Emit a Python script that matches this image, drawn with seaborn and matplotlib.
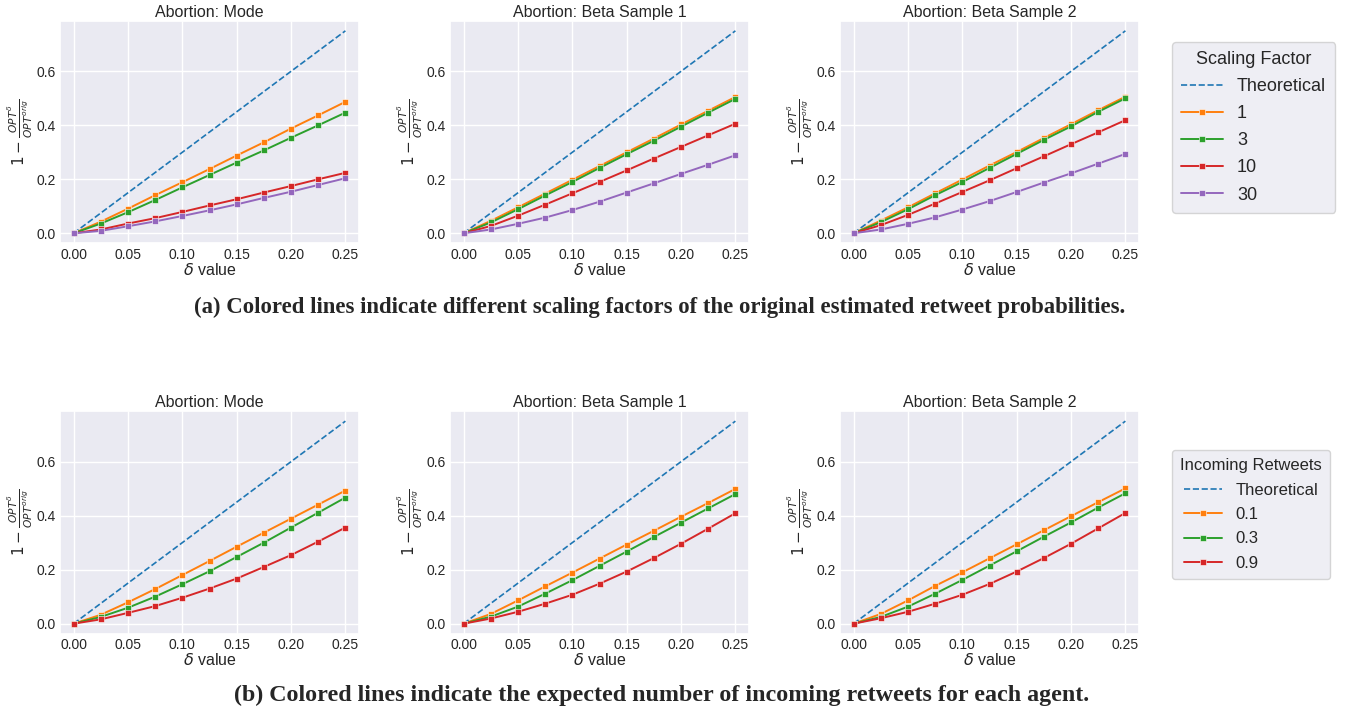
import numpy as np
import pandas as pd
import matplotlib
matplotlib.use("Agg")
import matplotlib.pyplot as plt
import seaborn as sns

delta = [0.0, 0.025, 0.05, 0.075, 0.1, 0.125, 0.15, 0.175, 0.2, 0.225, 0.25]
theoretical = [0.0, 0.075, 0.15, 0.225, 0.3, 0.375, 0.45, 0.525, 0.6, 0.675, 0.75]

panel_titles = ["Abortion: Mode", "Abortion: Beta Sample 1", "Abortion: Beta Sample 2"]

# Row (a): scaling factors
scaling_labels = ["1", "3", "10", "30"]
mode_sf = {
    "1":  [0, 0.043, 0.091, 0.141, 0.189, 0.238, 0.288, 0.337, 0.388, 0.437, 0.487],
    "3":  [0, 0.036, 0.078, 0.123, 0.170, 0.216, 0.262, 0.307, 0.354, 0.400, 0.447],
    "10": [0, 0.014, 0.036, 0.056, 0.079, 0.103, 0.126, 0.151, 0.175, 0.200, 0.224],
    "30": [0, 0.009, 0.026, 0.044, 0.064, 0.085, 0.107, 0.131, 0.154, 0.179, 0.204],
}
beta1_sf = {
    "1":  [0, 0.046, 0.096, 0.147, 0.198, 0.249, 0.300, 0.351, 0.403, 0.454, 0.505],
    "3":  [0, 0.040, 0.089, 0.140, 0.190, 0.242, 0.293, 0.343, 0.395, 0.447, 0.498],
    "10": [0, 0.027, 0.065, 0.106, 0.148, 0.190, 0.233, 0.277, 0.320, 0.363, 0.406],
    "30": [0, 0.014, 0.035, 0.058, 0.086, 0.117, 0.151, 0.185, 0.220, 0.254, 0.289],
}
beta2_sf = {
    "1":  [0, 0.047, 0.096, 0.148, 0.199, 0.251, 0.301, 0.353, 0.404, 0.456, 0.506],
    "3":  [0, 0.041, 0.089, 0.141, 0.190, 0.242, 0.294, 0.346, 0.396, 0.450, 0.500],
    "10": [0, 0.030, 0.068, 0.110, 0.153, 0.196, 0.241, 0.285, 0.330, 0.374, 0.419],
    "30": [0, 0.014, 0.035, 0.059, 0.088, 0.119, 0.153, 0.188, 0.222, 0.258, 0.294],
}

# Row (b): incoming retweets
retweet_labels = ["0.1", "0.3", "0.9"]
mode_rt = {
    "0.1": [0, 0.033, 0.079, 0.128, 0.180, 0.232, 0.285, 0.337, 0.389, 0.441, 0.493],
    "0.3": [0, 0.025, 0.059, 0.100, 0.146, 0.194, 0.247, 0.300, 0.356, 0.411, 0.467],
    "0.9": [0, 0.016, 0.040, 0.065, 0.096, 0.130, 0.167, 0.210, 0.254, 0.304, 0.356],
}
beta1_rt = {
    "0.1": [0, 0.036, 0.086, 0.138, 0.189, 0.241, 0.293, 0.344, 0.396, 0.447, 0.499],
    "0.3": [0, 0.026, 0.063, 0.111, 0.161, 0.214, 0.267, 0.321, 0.374, 0.427, 0.480],
    "0.9": [0, 0.019, 0.044, 0.074, 0.107, 0.148, 0.193, 0.243, 0.296, 0.352, 0.409],
}
beta2_rt = {
    "0.1": [0, 0.036, 0.086, 0.140, 0.190, 0.242, 0.294, 0.346, 0.398, 0.450, 0.501],
    "0.3": [0, 0.025, 0.063, 0.111, 0.162, 0.215, 0.268, 0.322, 0.375, 0.430, 0.483],
    "0.9": [0, 0.020, 0.044, 0.074, 0.107, 0.147, 0.193, 0.243, 0.296, 0.353, 0.410],
}

caption_a = "(a) Colored lines indicate different scaling factors of the original estimated retweet probabilities."
caption_b = "(b) Colored lines indicate the expected number of incoming retweets for each agent."

sns.set_theme(style="darkgrid")
plt.rcParams['font.family'] = ['Liberation Sans', 'DejaVu Sans']
plt.rcParams['mathtext.fontset'] = 'dejavusans'

W, H = 1351, 715
fig = plt.figure(figsize=(W / 100, H / 100), dpi=100)

palette = sns.color_palette("tab10")
theo_color = palette[0]
series_colors = [palette[1], palette[2], palette[3], palette[4]]

lefts = [60, 450, 840]
axw = 299
rows = [(20.7, 243.4), (411, 633.8)]

def make_long(d, labels):
    recs = []
    for lab in labels:
        for x, y in zip(delta, d[lab]):
            recs.append({"delta": x, "value": y, "series": lab})
    return pd.DataFrame(recs)

row_data = [
    ([mode_sf, beta1_sf, beta2_sf], scaling_labels, "Scaling Factor"),
    ([mode_rt, beta1_rt, beta2_rt], retweet_labels, "Incoming Retweets"),
]

legend_specs = [
    dict(top=42, fs=13, tfs=13, ls=0.56),
    dict(top=450, fs=12, tfs=12, ls=0.56),
]

for r, ((datasets, labels, legtitle), (top, bottom)) in enumerate(zip(row_data, rows)):
    for c, d in enumerate(datasets):
        ax = fig.add_axes([lefts[c] / W, 1 - bottom / H, axw / W, (bottom - top) / H])
        tdf = pd.DataFrame({"delta": delta, "value": theoretical})
        sns.lineplot(data=tdf, x="delta", y="value", ax=ax, color=theo_color,
                     linestyle="--", linewidth=1.2, label="Theoretical")
        df = make_long(d, labels)
        sns.lineplot(data=df, x="delta", y="value", hue="series", hue_order=labels,
                     palette=series_colors[:len(labels)], marker="s", markersize=4.5,
                     markeredgewidth=0.4, linewidth=1.4, ax=ax)
        ax.set_title(panel_titles[c], fontsize=11.5, pad=3)
        ax.set_xlabel(r"$\delta$ value", fontsize=11.5, labelpad=0)
        ax.set_ylabel(r"$1-\frac{OPT^{\delta}}{OPT^{orig}}$", fontsize=11, labelpad=1)
        ax.set_xticks([0.0, 0.05, 0.10, 0.15, 0.20, 0.25])
        ax.set_xticklabels(["0.00", "0.05", "0.10", "0.15", "0.20", "0.25"])
        ax.set_yticks([0.0, 0.2, 0.4, 0.6])
        ax.set_yticklabels(["0.0", "0.2", "0.4", "0.6"])
        ax.tick_params(labelsize=10, pad=3, length=0)
        ax.set_ylim(-0.0375, 0.7875)
        ax.set_xlim(-0.0125, 0.2625)
        handles, labs = ax.get_legend_handles_labels()
        ax.get_legend().remove()
    spec = legend_specs[r]
    leg = fig.legend(handles, labs, title=legtitle, loc="upper left",
                     bbox_to_anchor=(1172 / W, 1 - spec["top"] / H),
                     borderaxespad=0, fontsize=spec["fs"], title_fontsize=spec["tfs"],
                     frameon=True, handlelength=2.3, labelspacing=spec["ls"],
                     borderpad=0.5)
    leg.get_frame().set_edgecolor("#cccccc")

fig.text(660 / W, 1 - 307 / H, caption_a, ha="center", va="center",
         family="Liberation Serif", fontweight="bold", fontsize=16.4)
fig.text(662 / W, 1 - 695 / H, caption_b, ha="center", va="center",
         family="Liberation Serif", fontweight="bold", fontsize=17.3)

fig.savefig("out.png", dpi=100)
